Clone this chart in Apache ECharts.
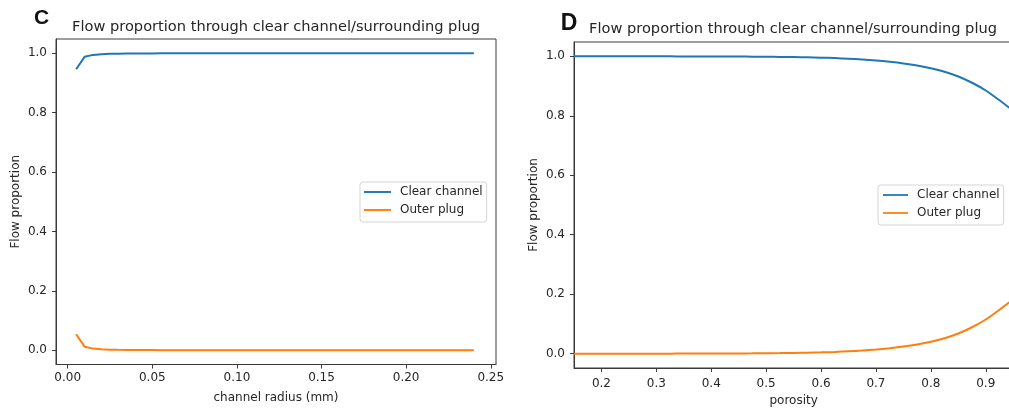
<!DOCTYPE html>
<html>
<head>
<meta charset="utf-8">
<script src="https://cdn.jsdelivr.net/npm/echarts@6/dist/echarts.min.js"></script>
<style>
html,body{margin:0;padding:0;background:#fff;}
#chart{width:1009px;height:409px;}
</style>
</head>
<body>
<div id="chart"></div>
<script>
// ---- Panel C data ----
const radius = [0.005,0.010,0.015,0.020,0.025,0.030,0.035,0.040,0.045,0.050,0.055,0.060,0.065,0.070,0.075,0.080,0.085,0.090,0.095,0.100,0.105,0.110,0.115,0.120,0.125,0.130,0.135,0.140,0.145,0.150,0.155,0.160,0.165,0.170,0.175,0.180,0.185,0.190,0.195,0.200,0.205,0.210,0.215,0.220,0.225,0.230,0.235,0.240];
const clearC = [0.946,0.988,0.9945,0.9969,0.998,0.9986,0.999,0.9992,0.9994,0.9995,0.9996,0.9997,0.9997,0.9998,0.9998,0.9998,0.9998,0.9999,0.9999,0.9999,0.9999,0.9999,0.9999,0.9999,0.9999,0.9999,0.9999,0.9999,0.9999,0.9999,0.9999,0.9999,0.9999,0.9999,0.9999,0.9999,0.9999,0.9999,0.9999,0.9999,0.9999,0.9999,0.9999,0.9999,0.9999,0.9999,0.9999,0.9999];
const outerC = [0.054,0.012,0.0055,0.0031,0.002,0.0014,0.001,0.0008,0.0006,0.0005,0.0004,0.0003,0.0003,0.0002,0.0002,0.0002,0.0002,0.0001,0.0001,0.0001,0.0001,0.0001,0.0001,0.0001,0.0001,0.0001,0.0001,0.0001,0.0001,0.0001,0.0001,0.0001,0.0001,0.0001,0.0001,0.0001,0.0001,0.0001,0.0001,0.0001,0.0001,0.0001,0.0001,0.0001,0.0001,0.0001,0.0001,0.0001];
const xTicksC = [0.00,0.05,0.10,0.15,0.20,0.25];

// ---- Panel D data ----
const porosity = [0.15,0.175,0.2,0.225,0.25,0.275,0.3,0.325,0.35,0.375,0.4,0.425,0.45,0.475,0.5,0.525,0.55,0.575,0.6,0.625,0.65,0.675,0.7,0.725,0.75,0.775,0.8,0.825,0.85,0.875,0.9,0.925,0.95];
const clearD = [1.0000,1.0000,0.9999,0.9999,0.9999,0.9998,0.9998,0.9997,0.9996,0.9995,0.9994,0.9992,0.9990,0.9987,0.9983,0.9978,0.9972,0.9964,0.9954,0.9940,0.9918,0.9895,0.9860,0.9815,0.9760,0.9690,0.9600,0.9480,0.9320,0.9110,0.8850,0.8520,0.8170];
const outerD = [0.0000,0.0000,0.0001,0.0001,0.0001,0.0002,0.0002,0.0003,0.0004,0.0005,0.0006,0.0008,0.0010,0.0013,0.0017,0.0022,0.0028,0.0036,0.0046,0.0060,0.0082,0.0105,0.0140,0.0185,0.0240,0.0310,0.0400,0.0520,0.0680,0.0890,0.1150,0.1480,0.1830];
const xTicksD = [0.2,0.3,0.4,0.5,0.6,0.7,0.8,0.9];

const yTicks = [0.0,0.2,0.4,0.6,0.8,1.0];
const seriesNames = ['Clear channel','Outer plug'];
const titleText = 'Flow proportion through clear channel/surrounding plug';

const BLUE = '#1f77b4', ORANGE = '#ff7f0e';
const TXT = '#262626', AX = '#3a3a3a';
const FONT = '"DejaVu Sans", sans-serif';
const LINE_ICON = 'path://M0,0L28,0L28,2L0,2Z';

function zip(xs, ys){ return xs.map((x,i)=>[x, ys[i]]); }

function xAxis(gi, min, max, ticks, digits, name, margin, nameGap){
  return {
    type:'value', gridIndex:gi, min:min, max:max,
    name:name, nameLocation:'middle', nameGap:nameGap,
    nameTextStyle:{color:TXT, fontSize:12, fontFamily:FONT},
    axisLine:{show:true, onZero:false, lineStyle:{color:AX, width:1}},
    axisTick:{show:true, length:4, customValues:ticks, lineStyle:{color:AX}},
    axisLabel:{show:true, customValues:ticks, margin:margin, color:TXT, fontSize:12, fontFamily:FONT,
      formatter:v=>Number(v).toFixed(digits)},
    splitLine:{show:false}
  };
}
function yAxis(gi){
  return {
    type:'value', gridIndex:gi, min:-0.048, max:1.048,
    name:'Flow proportion', nameLocation:'middle', nameGap:34, nameRotate:90,
    nameTextStyle:{color:TXT, fontSize:12, fontFamily:FONT},
    axisLine:{show:true, onZero:false, lineStyle:{color:AX, width:1}},
    axisTick:{show:true, length:4, customValues:yTicks, lineStyle:{color:AX}},
    axisLabel:{show:true, customValues:yTicks, margin:9, color:TXT, fontSize:12, fontFamily:FONT,
      formatter:v=>Number(v).toFixed(1)},
    splitLine:{show:false}
  };
}
function line(name, xi, data, color, smooth){
  return {
    type:'line', name:name, xAxisIndex:xi, yAxisIndex:xi, data:data,
    symbol:'none', showSymbol:false, smooth:smooth, animation:false,
    lineStyle:{color:color, width:2}, itemStyle:{color:color}
  };
}
function legend(left, top, pad, itemWidth, gap){
  return {
    orient:'vertical', left:left, top:top, padding:pad,
    itemWidth:itemWidth, itemHeight:14, itemGap:gap, icon:LINE_ICON,
    backgroundColor:'rgba(255,255,255,0.8)', borderColor:'#d5d5d5', borderWidth:1, borderRadius:3,
    textStyle:{color:TXT, fontSize:12, fontFamily:FONT, padding:[0,0,0,4]},
    data:seriesNames, selectedMode:false
  };
}

const chart = echarts.init(document.getElementById('chart'), null, {renderer:'canvas'});
chart.setOption({
  animation:false,
  backgroundColor:'#fff',
  grid:[
    {left:56, top:39, width:440, height:325.5, show:true, borderColor:AX, borderWidth:1, outerBoundsMode:'none', containLabel:false},
    {left:574, top:42, width:439.2, height:326, show:true, borderColor:AX, borderWidth:1, outerBoundsMode:'none', containLabel:false}
  ],
  xAxis:[
    xAxis(0, -0.0069, 0.2531, xTicksC, 2, 'channel radius (mm)', 7, 27),
    xAxis(1, 0.15, 0.95, xTicksD, 1, 'porosity', 10, 25)
  ],
  yAxis:[ yAxis(0), yAxis(1) ],
  legend:[ legend(360, 182, [4,4,6,4], 27, 6), legend(878, 185, [4,4,6,5], 25, 6) ],
  series:[
    line(seriesNames[0], 0, zip(radius, clearC), BLUE, false),
    line(seriesNames[1], 0, zip(radius, outerC), ORANGE, false),
    line(seriesNames[0], 1, zip(porosity, clearD), BLUE, 0.2),
    line(seriesNames[1], 1, zip(porosity, outerD), ORANGE, 0.2)
  ],
  graphic:[
    {type:'text', x:41.5, y:18, style:{text:'C', font:'bold 21px "Liberation Sans", Arial, sans-serif', fill:'#111', align:'center', verticalAlign:'middle'}},
    {type:'text', x:569, y:23.5, style:{text:'D', font:'bold 23px "Liberation Sans", Arial, sans-serif', fill:'#111', align:'center', verticalAlign:'middle'}},
    {type:'text', x:276, y:27, style:{text:titleText, font:'14.6px "DejaVu Sans", sans-serif', fill:TXT, align:'center', verticalAlign:'middle'}},
    {type:'text', x:793, y:29, style:{text:titleText, font:'14.6px "DejaVu Sans", sans-serif', fill:TXT, align:'center', verticalAlign:'middle'}}
  ]
});
</script>
</body>
</html>
